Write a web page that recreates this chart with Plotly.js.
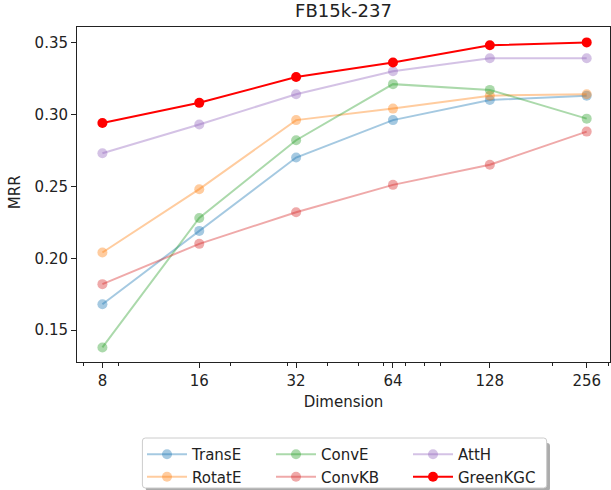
<!DOCTYPE html>
<html>
<head>
<meta charset="utf-8">
<script src="https://cdn.plot.ly/plotly-3.0.1.min.js"></script>
<style>html,body{margin:0;padding:0;background:#fff;}#chart{width:611px;height:490px;}</style>
</head>
<body>
<div id="chart"></div>
<script>
var dimensions = [8, 16, 32, 64, 128, 256];
var tickLabels = ['8', '16', '32', '64', '128', '256'];
var minorTicks = [7, 9, 20, 30, 40, 50, 60, 70, 80, 90, 200, 300];
var yTicks = [0.15, 0.20, 0.25, 0.30, 0.35];
var yTickLabels = ['0.15', '0.20', '0.25', '0.30', '0.35'];
var transE   = [0.168, 0.219, 0.270, 0.296, 0.310, 0.313];
var rotatE   = [0.204, 0.248, 0.296, 0.304, 0.313, 0.314];
var convE    = [0.138, 0.228, 0.282, 0.321, 0.317, 0.297];
var convKB   = [0.182, 0.210, 0.232, 0.251, 0.265, 0.288];
var attH     = [0.273, 0.293, 0.314, 0.330, 0.339, 0.339];
var greenKGC = [0.294, 0.308, 0.326, 0.336, 0.348, 0.350];

var FONT = 'DejaVu Sans, sans-serif';
var FS = 15;

function series(name, y, color, legendId) {
  return {
    x: dimensions, y: y, name: name, type: 'scatter', mode: 'lines+markers',
    line: {color: color, width: 2},
    marker: {color: color, size: 10, line: {width: 0}},
    legend: legendId
  };
}

var traces = [
  series('TransE', transE, 'rgba(31,119,180,0.4)', 'legend'),
  series('RotatE', rotatE, 'rgba(255,127,14,0.4)', 'legend'),
  series('ConvE', convE, 'rgba(44,160,44,0.4)', 'legend2'),
  series('ConvKB', convKB, 'rgba(214,39,40,0.4)', 'legend2'),
  series('AttH', attH, 'rgba(148,103,189,0.4)', 'legend3'),
  series('GreenKGC', greenKGC, 'rgb(255,0,0)', 'legend3')
];

function leg(x) {
  return {
    xref: 'container', yref: 'container', x: x, y: 1 - 438/490,
    xanchor: 'left', yanchor: 'top', orientation: 'v',
    bgcolor: 'rgba(0,0,0,0)', borderwidth: 0, itemwidth: 40,
    font: {family: FONT, size: FS, color: '#222'},
    tracegroupgap: 0, itemclick: false
  };
}

// rounded legend frame (paper coords; plot is 533 x 335 px)
function roundRect(x0, y0, x1, y1, r) {
  var rx = r / 533, ry = r / 335;
  return 'M' + (x0 + rx) + ',' + y0 + ' L' + (x1 - rx) + ',' + y0 +
    ' Q' + x1 + ',' + y0 + ' ' + x1 + ',' + (y0 - ry) +
    ' L' + x1 + ',' + (y1 + ry) + ' Q' + x1 + ',' + y1 + ' ' + (x1 - rx) + ',' + y1 +
    ' L' + (x0 + rx) + ',' + y1 + ' Q' + x0 + ',' + y1 + ' ' + x0 + ',' + (y1 + ry) +
    ' L' + x0 + ',' + (y0 - ry) + ' Q' + x0 + ',' + y0 + ' ' + (x0 + rx) + ',' + y0 + ' Z';
}

var layout = {
  width: 611, height: 490,
  margin: {l: 77, r: 1, t: 27, b: 128, autoexpand: false},
  paper_bgcolor: '#fff', plot_bgcolor: '#fff',
  font: {family: FONT, size: FS, color: '#222'},
  title: {text: 'FB15k-237', font: {family: FONT, size: 18, color: '#222'},
          xref: 'paper', x: 0.5, xanchor: 'center', yref: 'container', y: 1 - 11/490, yanchor: 'middle'},
  xaxis: {
    type: 'log', range: [0.8241, 2.4807], automargin: true,
    tickmode: 'array', tickvals: dimensions, ticktext: tickLabels,
    ticks: 'outside', ticklen: 5, tickwidth: 1, tickcolor: '#222',
    minor: {tickmode: 'array', tickvals: minorTicks, ticks: 'outside', ticklen: 3, tickwidth: 1, tickcolor: '#222', showgrid: false},
    showgrid: false, zeroline: false,
    showline: true, linecolor: '#222', linewidth: 1, mirror: true,
    tickfont: {family: FONT, size: FS, color: '#222'},
    title: {text: 'Dimension', font: {family: FONT, size: FS, color: '#222'}, standoff: 7}
  },
  yaxis: {
    range: [0.1279, 0.3607], automargin: false,
    tickmode: 'array', tickvals: yTicks, ticktext: yTickLabels,
    ticks: 'outside', ticklen: 5, tickwidth: 1, tickcolor: '#222',
    showgrid: false, zeroline: false,
    showline: true, linecolor: '#222', linewidth: 1, mirror: true,
    tickfont: {family: FONT, size: FS, color: '#222'}
  },
  annotations: [
    {text: 'MRR', xref: 'paper', yref: 'paper', x: -0.1163, y: 0.507, xanchor: 'center', yanchor: 'middle',
     textangle: -90, showarrow: false, font: {family: FONT, size: FS, color: '#222'}}
  ],
  showlegend: true,
  legend: leg(142/611),
  legend2: leg(271/611),
  legend3: leg(408/611),
  shapes: [
    {type: 'path', xref: 'paper', yref: 'paper', path: roundRect(0.1289, -0.2418, 0.8874, -0.385, 3),
     line: {width: 0}, fillcolor: 'rgba(0,0,0,0.33)', layer: 'above'},
    {type: 'path', xref: 'paper', yref: 'paper', path: roundRect(0.1227, -0.2269, 0.8812, -0.3761, 3),
     line: {width: 1, color: '#cccccc'}, fillcolor: '#ffffff', layer: 'above'}
  ]
};

Plotly.newPlot('chart', traces, layout, {displayModeBar: false, staticPlot: true});
</script>
</body>
</html>
